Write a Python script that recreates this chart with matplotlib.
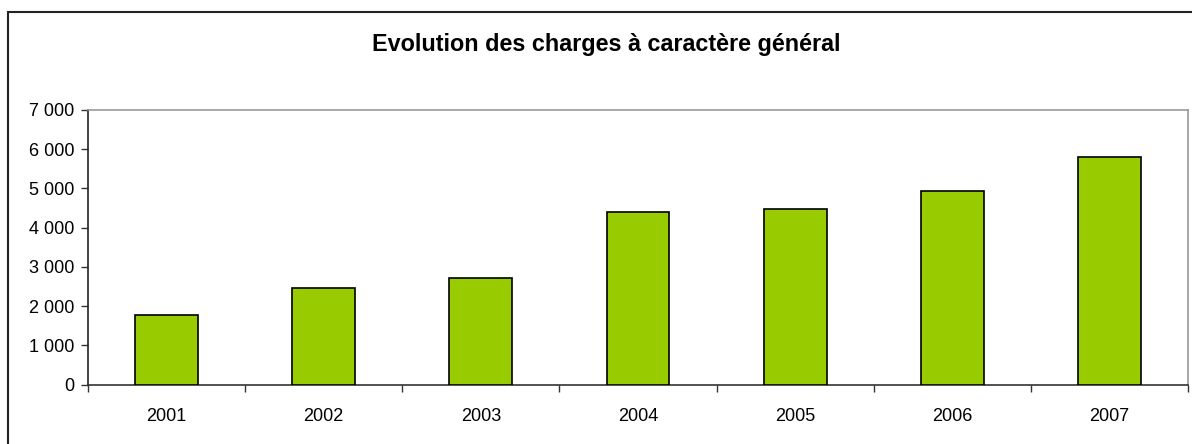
import numpy as np
import matplotlib.pyplot as plt
from matplotlib.ticker import FuncFormatter, FixedLocator
from matplotlib.patches import Rectangle

plt.rcParams['font.family'] = ['Liberation Sans', 'DejaVu Sans']

# Données
annees = ['2001', '2002', '2003', '2004', '2005', '2006', '2007']
charges = [1768, 2470, 2718, 4400, 4485, 4935, 5810]

W, H = 1192, 444
fig = plt.figure(figsize=(W / 100, H / 100), dpi=100)

# cadre extérieur (coupé à droite et en bas)
fig.patches.append(Rectangle((8 / W, -0.1), 1.2, 1 - 12 / H + 0.1,
                             transform=fig.transFigure, fill=False,
                             edgecolor='#222222', linewidth=1.5))

ax = fig.add_axes([88 / W, 1 - 384.7 / H, (1188 - 88) / W, (384.7 - 110) / H])

x = np.arange(len(annees))
ax.bar(x, charges, width=0.4, color='#99CC00', edgecolor='black', linewidth=1.2, zorder=3)

ax.set_xlim(-0.5, len(annees) - 0.5)
ax.set_ylim(0, 7000)
ax.set_yticks(np.arange(0, 7001, 1000))
ax.yaxis.set_major_formatter(FuncFormatter(lambda v, p: f"{int(v):,}".replace(',', ' ')))

ax.set_xticks(x)
ax.set_xticklabels(annees)
ax.xaxis.set_minor_locator(FixedLocator(np.arange(-0.5, len(annees), 1.0)))
ax.tick_params(axis='x', which='major', length=0, pad=17, labelsize=13)
ax.tick_params(axis='x', which='minor', length=5, width=1, color='#333333', direction='out')
ax.tick_params(axis='y', length=5, width=1, color='#333333', pad=5, labelsize=13)

ax.spines['left'].set_color('#222222')
ax.spines['bottom'].set_color('#333333')
ax.spines['top'].set_color('#999999')
ax.spines['right'].set_color('#999999')
for s in ax.spines.values():
    s.set_linewidth(1.2)

fig.text(606 / W, 1 - 51 / H, "Evolution des charges à caractère général",
         ha='center', va='baseline', fontsize=16.8, fontweight='bold')

fig.savefig('out.png', dpi=100)
